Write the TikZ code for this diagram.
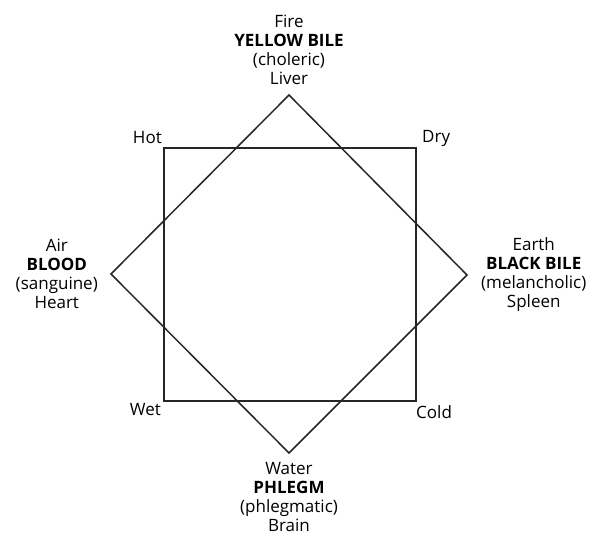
\documentclass[tikz,border=0pt]{standalone}
\usepackage{fontspec}
\setmainfont{Open Sans}
\usetikzlibrary{positioning}
\tikzset{
  edge/.style  ={draw=black!85, line width=1.5pt, line join=miter},
  humour/.style={align=center, inner sep=0pt, font=\fontsize{17}{19}\selectfont},
  qual/.style  ={inner sep=0pt, font=\fontsize{17}{19}\selectfont}
}

\begin{document}
\begin{tikzpicture}[x=1pt,y=-1pt]
  \useasboundingbox (0,0) rectangle (593,537);

  % diamond of the elements
  \coordinate (top) at (289,95);
  \coordinate (rgt) at (467,275);
  \coordinate (bot) at (289,453);
  \coordinate (lft) at (111,274);
  % square of the qualities
  \coordinate (hot)  at (164,148);
  \coordinate (dry)  at (416,148);
  \coordinate (cold) at (416,401);
  \coordinate (wet)  at (164,401);

  \draw[edge](top)--(rgt)--(bot)--(lft)--cycle;
  \draw[edge](hot)--(dry)--(cold)--(wet)--cycle;

  % humours
  \node[humour, above=10pt of top](fire){Fire\\\textbf{YELLOW BILE}\\(choleric)\\Liver};
  \node[humour, left=13pt of lft](air){Air\\\textbf{BLOOD}\\(sanguine)\\Heart};
  \node[humour, right=14pt of rgt](earth){Earth\\\textbf{BLACK BILE}\\(melancholic)\\Spleen};
  \node[humour, below=9pt of bot](water){Water\\\textbf{PHLEGM}\\(phlegmatic)\\Brain};

  % qualities
  \node[qual, above left=4pt and 2pt of hot](hotl){Hot};
  \node[qual, above right=1pt and 6pt of dry](dryl){Dry};
  \node[qual, below left=2pt and 3pt of wet](wetl){Wet};
  \node[qual, below right=4pt and 0pt of cold](coldl){Cold};
\end{tikzpicture}
\end{document}
